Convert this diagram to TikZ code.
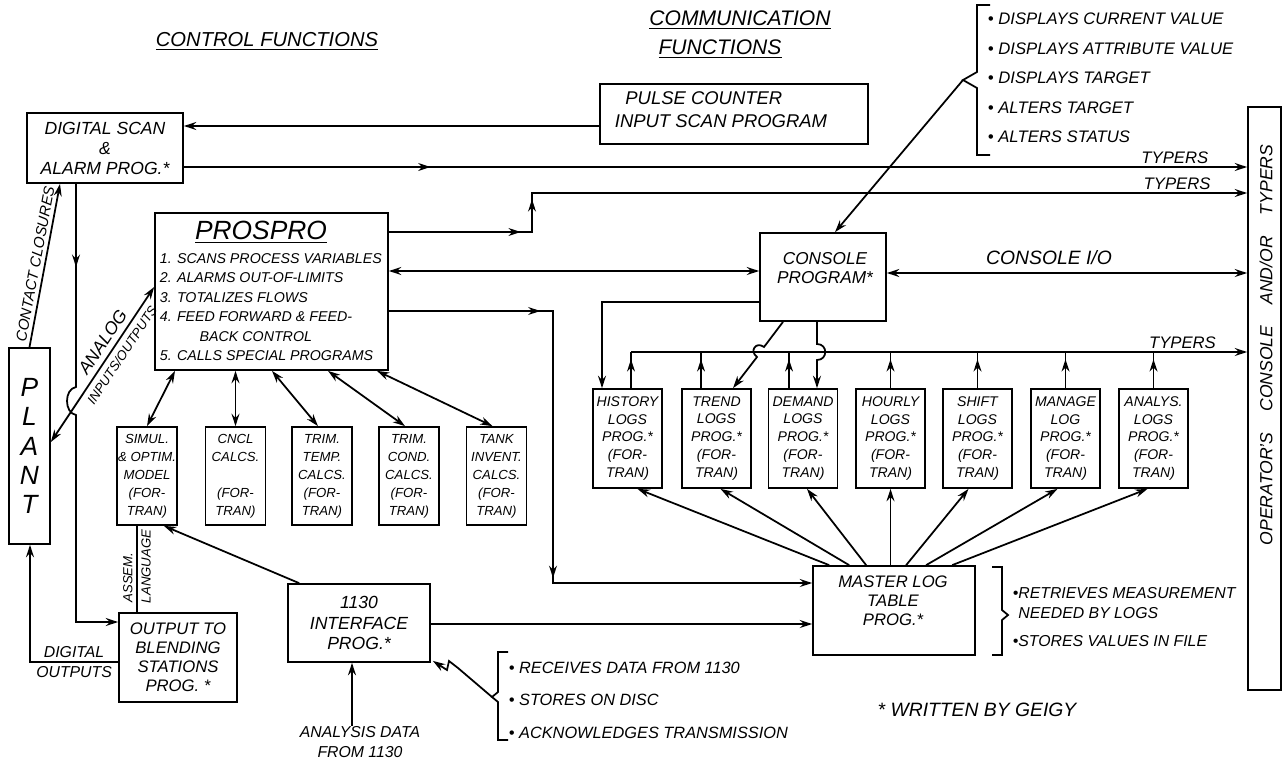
\documentclass[tikz,border=0pt]{standalone}
\usepackage{fontspec}
\setmainfont{Liberation Sans}
\usetikzlibrary{arrows.meta,calc,decorations.markings}

\newcommand{\hand}[2]{\fontsize{#1}{#2}\selectfont\itshape}

\begin{document}
\begin{tikzpicture}[
    x=0.02cm, y=-0.02cm,
    line width=1pt,
    every node/.style={inner sep=0pt, align=center, font=\hand{9.5}{11}},
    box/.style={draw, line width=1pt},
    logbox/.style={box, minimum width=1.38cm, minimum height=1.98cm, font=\hand{8}{10.2}},
    calcbox/.style={box, minimum width=1.2cm, minimum height=1.96cm, font=\hand{7.5}{10.2}},
    ar/.style={-{Stealth[length=7pt,width=4.5pt]}},
    dar/.style={{Stealth[length=7pt,width=4.5pt]}-{Stealth[length=7pt,width=4.5pt]}},
    midtip/.style={postaction={decorate, decoration={markings,
        mark=at position #1 with {\arrow{Stealth[length=7pt,width=4.5pt]}}}}}
]
\useasboundingbox (0,0) rectangle (1283,764);

% titles
\node[font=\hand{11.5}{13}] (ctrltitle) at (267,41) {\underline{CONTROL FUNCTIONS}};
\node[font=\hand{12}{14}] (commtitle) at (740,20) {\underline{COMMUNICATION}};
\node[font=\hand{12}{14}] (commtitleb) at (720,49) {\underline{FUNCTIONS}};

% control side
\node[box, minimum width=3.12cm, minimum height=1.4cm, font=\hand{10}{11.4}] (dscan) at (105,148) {DIGITAL SCAN\\\&\\ALARM PROG.*};
\node[box, minimum width=4.66cm, minimum height=3.14cm] (prospro) at (271.5,291.5) {};
\node[font=\hand{15}{17}] (prosprotitle) at (261,232) {\underline{PROSPRO}};
\node[font=\hand{8.1}{11.1}, align=left, anchor=west] (prosprolist) at (159,307) {1. SCANS PROCESS VARIABLES\\2. ALARMS OUT-OF-LIMITS\\3. TOTALIZES FLOWS\\4. FEED FORWARD \& FEED-\\\hspace*{2.8em}BACK CONTROL\\5. CALLS SPECIAL PROGRAMS};
\node[box, minimum width=0.82cm, minimum height=3.92cm, font=\hand{15}{16.6}] (plant) at (29.5,446) {P\\L\\A\\N\\T};
\node[box, minimum width=2.36cm, minimum height=1.78cm, font=\hand{9.5}{10.8}] (output) at (178,657.5) {OUTPUT TO\\BLENDING\\STATIONS\\PROG. *};
\node[box, minimum width=2.84cm, minimum height=1.56cm, font=\hand{10}{11.8}] (iface) at (359,623) {1130\\INTERFACE\\PROG.*};
\node[font=\hand{9}{11}] (adata) at (360,742) {ANALYSIS DATA\\FROM 1130};

\node[calcbox] (simul) at (147,476) {SIMUL.\\\& OPTIM.\\MODEL\\(FOR-\\TRAN)};
\node[calcbox] (cncl) at (235.5,476) {CNCL\\CALCS.\\[10.2pt](FOR-\\TRAN)};
\node[calcbox] (trimtemp) at (322,476) {TRIM.\\TEMP.\\CALCS.\\(FOR-\\TRAN)};
\node[calcbox] (trimcond) at (409,476) {TRIM.\\COND.\\CALCS.\\(FOR-\\TRAN)};
\node[calcbox] (tank) at (496.5,476) {TANK\\INVENT.\\CALCS.\\(FOR-\\TRAN)};

% communication side
\node[box, minimum width=5.36cm, minimum height=1.2cm] (pulse) at (734,114) {};
\node[font=\hand{10.5}{13}, align=left, anchor=west] (pulsetxt) at (614,110) {\hspace*{6pt}PULSE COUNTER\\INPUT SCAN PROGRAM};
\node[box, minimum width=2.52cm, minimum height=1.76cm] (cons) at (823,277) {};
\node[font=\hand{9.8}{10.9}] (constxt) at (825,268) {CONSOLE\\PROGRAM*};
\node[box, minimum width=0.66cm, minimum height=11.66cm] (oper) at (1264.5,398.5) {};
\node[rotate=90, font=\hand{10}{12}] (opertxt) at (1266,345) {OPERATOR'S\hspace{1.2em}CONSOLE\hspace{1.2em}AND/OR\hspace{1.2em}TYPERS};

\node[logbox] (histlog) at (627.5,438.5) {HISTORY\\LOGS\\PROG.*\\(FOR-\\TRAN)};
\node[logbox] (trendlog) at (716.5,438.5) {TREND\\LOGS\\PROG.*\\(FOR-\\TRAN)};
\node[logbox] (demandlog) at (803,438.5) {DEMAND\\LOGS\\PROG.*\\(FOR-\\TRAN)};
\node[logbox] (hourlylog) at (890.5,438.5) {HOURLY\\LOGS\\PROG.*\\(FOR-\\TRAN)};
\node[logbox] (shiftlog) at (977.5,438.5) {SHIFT\\LOGS\\PROG.*\\(FOR-\\TRAN)};
\node[logbox] (managelog) at (1065.5,438.5) {MANAGE\\LOG\\PROG.*\\(FOR-\\TRAN)};
\node[logbox] (analyslog) at (1153.5,438.5) {ANALYS.\\LOGS\\PROG.*\\(FOR-\\TRAN)};

\node[box, minimum width=3.24cm, minimum height=1.78cm] (master) at (894,610.5) {};
\node[font=\hand{9.5}{10.9}] (mastertxt) at (893,601) {MASTER LOG\\TABLE\\PROG.*};

% notes
\node[font=\hand{9.5}{16.8}, align=left, anchor=west] (displist) at (987,78) {• DISPLAYS CURRENT VALUE\\• DISPLAYS ATTRIBUTE VALUE\\• DISPLAYS TARGET\\• ALTERS TARGET\\• ALTERS STATUS};
\draw (990,5) -- (977,5) -- (977,72) -- (963,80) -- (977,88) -- (977,155) -- (990,155);
\coordinate (disptip) at (963,80);
\node[font=\hand{9.3}{18.5}, align=left, anchor=west] (iflist) at (508,700) {• RECEIVES DATA FROM 1130\\• STORES ON DISC\\• ACKNOWLEDGES TRANSMISSION};
\draw (508,652) -- (498,652) -- (498,692) -- (492,697) -- (498,702) -- (498,740) -- (508,740);
\coordinate (iftip) at (492,697);
\node[font=\hand{9}{11.4}, align=left, anchor=west] (mlist) at (1012,617) {•RETRIEVES MEASUREMENT\\\hspace*{0.35em}NEEDED BY LOGS\\[5pt]•STORES VALUES IN FILE};
\draw (992,567) -- (1002,567) -- (1002,610) -- (1008,615) -- (1002,620) -- (1002,655) -- (992,655);
\node[font=\hand{11}{13}] (geigy) at (977,710) {* WRITTEN BY GEIGY};

% connectors, top
\draw[ar] (pulse.west |- 0,126) -- (dscan.east |- 0,126);
\draw[ar, midtip=0.232] (dscan.east |- 0,167) -- node[pos=0.932, above=1.5pt] (typa) {TYPERS} (oper.west |- 0,167);
\draw[ar, midtip=0.147, midtip=0.196] (prospro.east |- 0,232) -- (532,232) -- (532,193) -- node[pos=0.902, above=1.5pt] (typb) {TYPERS} (oper.west |- 0,193);
\draw[dar] (prospro.east |- 0,271) -- (cons.west |- 0,271);
\draw[ar, midtip=0.218, midtip=0.62] (prospro.east |- 0,311) -- (553,311) -- (553,583) -- (master.west |- 0,583);
\draw[ar] (disptip) -- ($(cons.north)+(12,0)$);
\draw[dar] (cons.east |- 0,273) -- node[pos=0.45, above=4pt, font=\hand{11}{13}] (consio) {CONSOLE I/O} (oper.west |- 0,273);

% log bus
\draw[ar] (631,352) -- node[pos=0.895, above=1.5pt] (typc) {TYPERS} (oper.west |- 0,352);
\draw[midtip=0.8] (histlog.north -| 631,0) -- (631,352);
\draw[midtip=0.8] (trendlog.north -| 701,0) -- (701,352);
\draw[midtip=0.8] (demandlog.north -| 789,0) -- (789,352);
\draw[midtip=0.8] (hourlylog.north) -- (hourlylog.north |- 0,352);
\draw[midtip=0.8] (shiftlog.north) -- (shiftlog.north |- 0,352);
\draw[midtip=0.8] (managelog.north) -- (managelog.north |- 0,352);
\draw[midtip=0.8] (analyslog.north) -- (analyslog.north |- 0,352);
\draw[ar] (cons.west |- 0,302) -- (602,302) -- (histlog.north -| 602,0);
\draw[ar] ($(cons.south)+(-40,0)$) -- (764,347) .. controls (756,341) and (749,351) .. (757,357) -- ($(trendlog.north)+(16.5,0)$);
\draw[ar] ($(cons.south)+(-6,0)$) -- (817,344) .. controls (828,344) and (828,360) .. (817,360) -- (demandlog.north -| 817,0);

% master log table to logs
\draw[ar] ($(master.north west)+(17,0)$) -- ($(histlog.south)+(10,0)$);
\draw[ar] ($(master.north west)+(37,0)$) -- ($(trendlog.south)+(4,0)$);
\draw[ar] ($(master.north west)+(54,0)$) -- ($(demandlog.south)+(4,0)$);
\draw[ar] (master.north -| hourlylog.south) -- (hourlylog.south);
\draw[ar] ($(master.north west)+(94,0)$) -- ($(shiftlog.south)+(-9,0)$);
\draw[ar] ($(master.north west)+(114,0)$) -- ($(managelog.south)+(-8,0)$);
\draw[ar] ($(master.north west)+(140,0)$) -- ($(analyslog.south)+(-6,0)$);

% prospro to special programs
\draw[dar] (prospro.south -| 175,0) -- (simul.north);
\draw[dar] (prospro.south -| cncl.north) -- (cncl.north);
\draw[dar] (prospro.south -| 272,0) -- ($(trimtemp.north)+(-4,0)$);
\draw[dar] (prospro.south -| 328,0) -- ($(trimcond.north)+(-4,0)$);
\draw[dar] (prospro.south -| 377,0) -- ($(tank.north)+(-4,0)$);

% plant side
\draw[ar] (plant.north) -- node[midway, sloped, above=2pt, font=\hand{8.5}{10}] (contact) {CONTACT CLOSURES} (dscan.south -| 60,0);
\draw[dar] (plant.east |- 0,442) -- node[pos=0.6, sloped, above=3pt, font=\hand{10}{12}] (analog) {ANALOG} node[pos=0.6, sloped, below=3pt, font=\hand{7.5}{9}] (inout) {INPUTS/OUTPUTS} (prospro.west |- 0,287);
\draw[ar, midtip=0.17] (dscan.south -| 76,0) -- (76,387) .. controls (64,389) and (64,413) .. (76,415) -- (76,622) -- (output.west |- 0,622);
\draw[ar] (output.west |- 0,662) -- node[midway, above=2pt, font=\hand{9}{11}] (digouta) {DIGITAL} node[midway, below=2pt, font=\hand{9}{11}] (digoutb) {OUTPUTS} (30,662) -- (plant.south -| 30,0);
\draw (simul.south -| 137,0) -- node[pos=0.6, rotate=90, anchor=south, inner sep=2pt, font=\hand{7.5}{9}] (assem) {ASSEM.} node[pos=0.47, rotate=90, anchor=north, inner sep=2pt, font=\hand{7.5}{9}] (lang) {LANGUAGE} (output.north -| 137,0);

% interface
\draw[ar] ($(iface.north west)+(12,0)$) -- ($(simul.south east)+(-14,0)$);
\draw[ar] (adata.north -| 352,0) -- (iface.south -| 352,0);
\draw[ar] (iftip) -- (458,668) -- (449,661) -- (447,670) -- ($(iface.south east)+(2,-2)$);
\draw[ar] (iface.east |- 0,624) -- (master.west |- 0,624);

\end{tikzpicture}
\end{document}
